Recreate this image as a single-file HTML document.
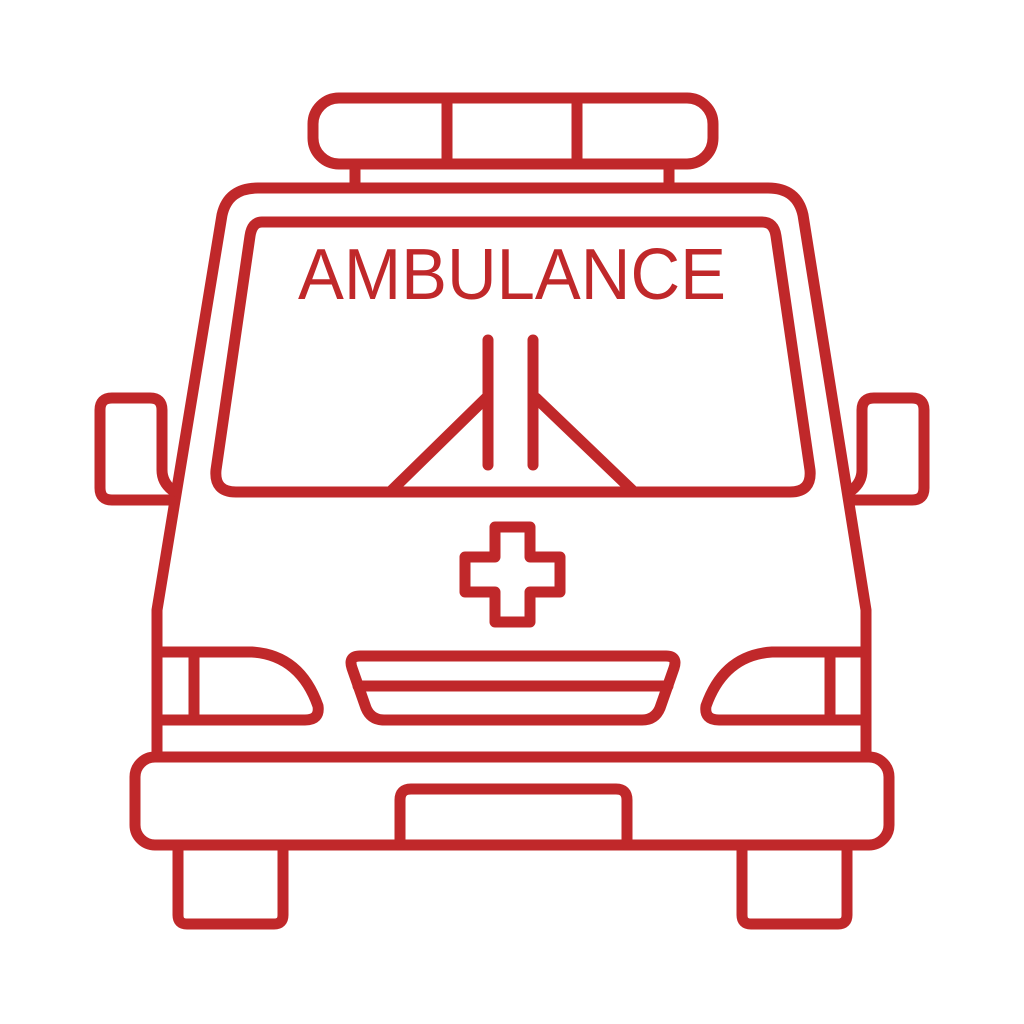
<!DOCTYPE html>
<html><head><style>html,body{margin:0;padding:0;background:#fff;}svg{display:block}</style></head>
<body>
<svg width="1024" height="1024" viewBox="0 0 1024 1024" xmlns="http://www.w3.org/2000/svg">
<g fill="none" stroke="#c0282a" stroke-width="11" stroke-linecap="round" stroke-linejoin="round">
<!-- light bar -->
<rect x="313" y="98" width="400" height="66" rx="26"/>
<line x1="447" y1="100" x2="447" y2="162"/>
<line x1="577" y1="100" x2="577" y2="162"/>
<line x1="355" y1="164" x2="355" y2="188"/>
<line x1="669" y1="164" x2="669" y2="188"/>
<!-- body -->
<path d="M157 755 L157 610 L222 215 Q228 188 258 188 L768 188 Q797 188 803 215 L866 610 L866 755"/>
<!-- windshield -->
<path d="M262 222 L762 222 Q774 222 776 236 L810 470 Q812 492 790 492 L236 492 Q214 492 216 470 L250 236 Q252 222 262 222 Z"/>
<!-- wipers -->
<line x1="488" y1="340" x2="488" y2="465"/>
<line x1="533" y1="340" x2="533" y2="465"/>
<line x1="486" y1="398" x2="392" y2="490"/>
<line x1="536" y1="398" x2="632" y2="490"/>
<!-- mirrors -->
<path d="M170 500 L112 500 Q100 500 100 488 L100 410 Q100 398 112 398 L150 398 Q162 398 162 410 L162 470 Q162 482 172 490"/>
<path d="M854 500 L912 500 Q924 500 924 488 L924 410 Q924 398 912 398 L874 398 Q862 398 862 410 L862 470 Q862 482 852 490"/>
<!-- cross -->
<path d="M495 527 L530 527 L530 557 L560 557 L560 592 L530 592 L530 622 L495 622 L495 592 L465 592 L465 557 L495 557 Z"/>
<!-- grille -->
<path d="M360 656 L666 656 Q678 656 674 668 L660 708 Q655 720 642 720 L384 720 Q371 720 366 708 L352 668 Q348 656 360 656 Z"/>
<line x1="358" y1="686" x2="668" y2="686"/>
<!-- headlights -->
<path d="M157 652 L252 652 Q300 655 318 706 Q320 720 305 720 L157 720"/>
<line x1="194" y1="654" x2="194" y2="718"/>
<path d="M866 652 L772 652 Q724 655 706 706 Q704 720 719 720 L866 720"/>
<line x1="830" y1="654" x2="830" y2="718"/>
<!-- bumper -->
<rect x="135" y="757" width="754" height="88" rx="20"/>
<path d="M400 845 L400 800 Q400 789 411 789 L616 789 Q627 789 627 800 L627 845"/>
<!-- wheels -->
<path d="M178 845 L178 915 Q178 924 187 924 L274 924 Q283 924 283 915 L283 845"/>
<path d="M742 845 L742 915 Q742 924 751 924 L838 924 Q847 924 847 915 L847 845"/>
</g>
<text x="512" y="299" text-anchor="middle" font-family="Liberation Sans, sans-serif" font-size="72" fill="#c0282a" textLength="428" lengthAdjust="spacingAndGlyphs">AMBULANCE</text>
</svg>
</body></html>
